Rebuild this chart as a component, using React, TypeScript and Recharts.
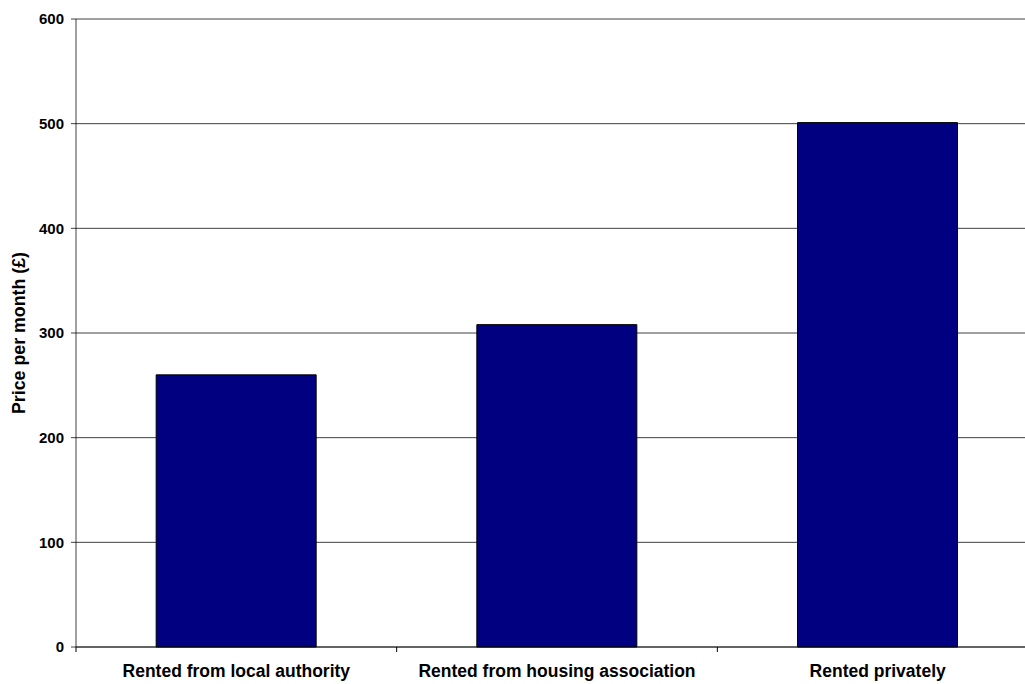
import { Bar, BarChart, CartesianGrid, XAxis, YAxis } from "recharts";

const tenures = [
  "Rented from local authority",
  "Rented from housing association",
  "Rented privately",
];
const monthlyPrice = [260, 308, 501];
const priceTicks = [0, 100, 200, 300, 400, 500, 600];

const data = tenures.map((tenure, i) => ({
  tenure,
  price: monthlyPrice[i],
}));

const FONT = "'Liberation Sans', Arial, Helvetica, sans-serif";

// category label plus the small divider ticks between categories
function TenureTick(props: any) {
  const { x, y, payload, index, visibleTicksCount } = props;
  const half = payload.offset ?? 0;
  const isLast = index === visibleTicksCount - 1;
  return (
    <g>
      <line x1={x - half} x2={x - half} y1={y} y2={y + 5} stroke="#000" />
      {isLast && (
        <line x1={x + half} x2={x + half} y1={y} y2={y + 5} stroke="#000" />
      )}
      <text
        x={x}
        y={y + 18}
        dy="0.71em"
        textAnchor="middle"
        fontFamily={FONT}
        fontWeight="bold"
        fontSize={17.5}
        fill="#000"
      >
        {payload.value}
      </text>
    </g>
  );
}

function PriceLabel(props: any) {
  const { viewBox } = props;
  const cx = viewBox.x + 19;
  const cy = viewBox.y + viewBox.height / 2;
  return (
    <text
      x={cx}
      y={cy}
      transform={`rotate(-90, ${cx}, ${cy})`}
      textAnchor="middle"
      dominantBaseline="central"
      fontFamily={FONT}
      fontWeight="bold"
      fontSize={17.8}
      fill="#000"
    >
      Price per month (£)
    </text>
  );
}

export default function App() {
  return (
    <div
      style={{
        position: "absolute",
        left: 0,
        top: 0,
        width: 1025,
        height: 684,
        overflow: "hidden",
        background: "#fff",
      }}
    >
      <BarChart
        width={1040}
        height={684}
        data={data}
        margin={{ top: 19, right: 2, bottom: 0, left: 0 }}
        barCategoryGap="25%"
      >
        <CartesianGrid vertical={false} stroke="#000" strokeOpacity={0.75} />
        <XAxis
          dataKey="tenure"
          height={37}
          tickSize={0}
          tickMargin={0}
          tickLine={false}
          axisLine={{ stroke: "#000", strokeOpacity: 0.75 }}
          tick={<TenureTick />}
          interval={0}
        />
        <YAxis
          width={76}
          domain={[0, 600]}
          ticks={priceTicks}
          interval={0}
          tickSize={5}
          tickMargin={7}
          axisLine={{ stroke: "#000", strokeOpacity: 0.75 }}
          tickLine={{ stroke: "#000", strokeOpacity: 0.75 }}
          tick={{
            fontFamily: FONT,
            fontWeight: "bold",
            fontSize: 15,
            fill: "#000",
          }}
          label={<PriceLabel />}
        />
        <Bar
          dataKey="price"
          fill="#000080"
          stroke="#000"
          strokeWidth={1}
          isAnimationActive={false}
        />
      </BarChart>
    </div>
  );
}
